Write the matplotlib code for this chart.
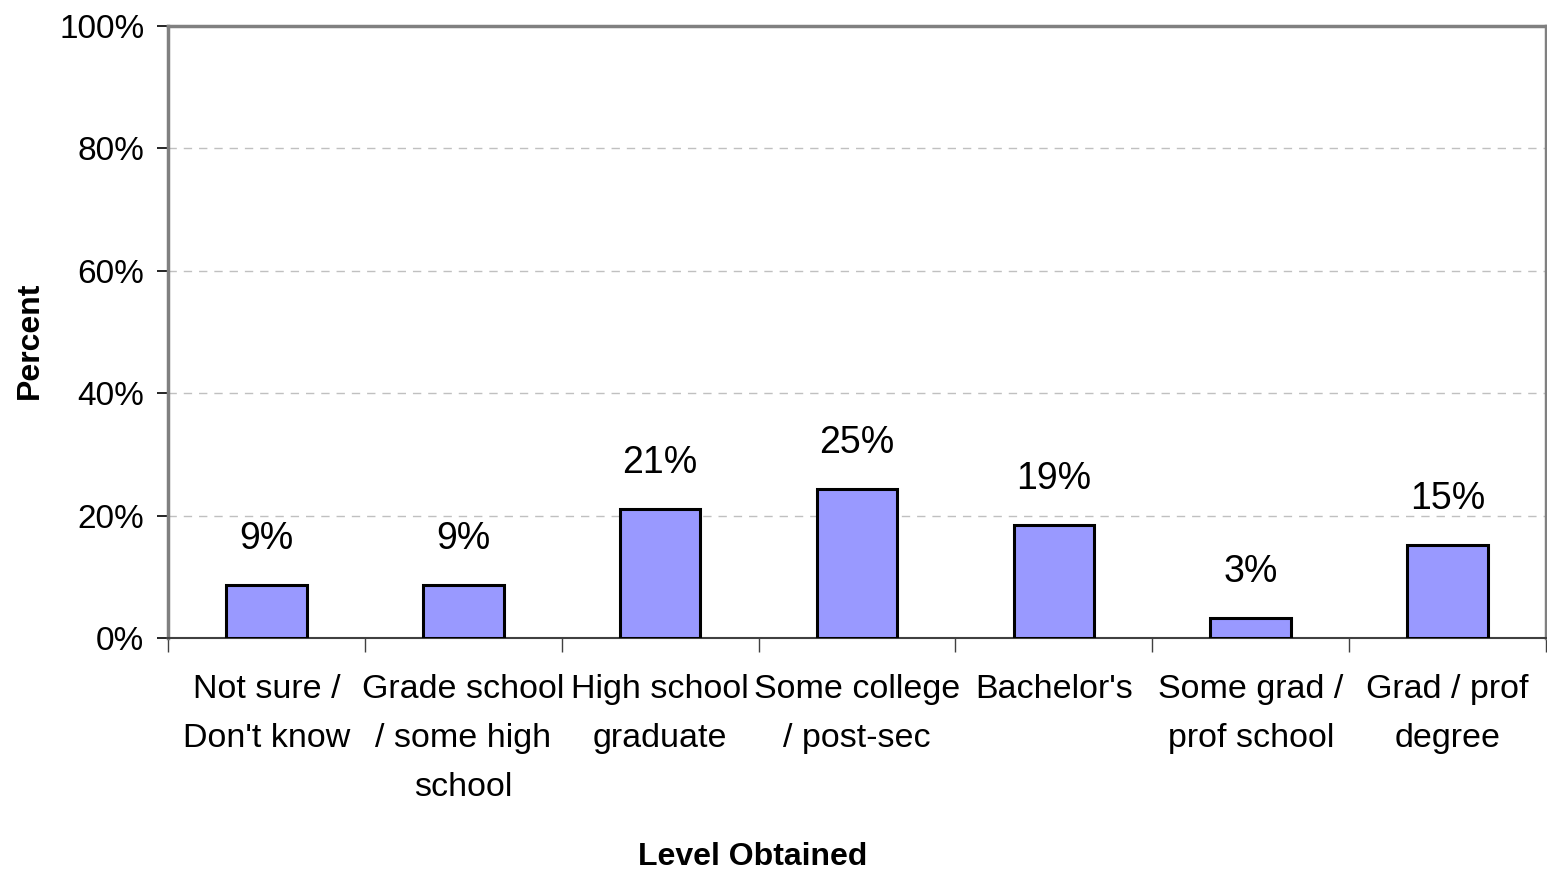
import matplotlib
matplotlib.use("Agg")
import matplotlib.pyplot as plt
import numpy as np

categories = ["Not sure /\nDon't know", "Grade school\n/ some high\nschool", "High school\ngraduate",
              "Some college\n/ post-sec", "Bachelor's", "Some grad /\nprof school", "Grad / prof\ndegree"]
values = [8.7, 8.7, 21.1, 24.4, 18.5, 3.3, 15.2]
labels = ["9%", "9%", "21%", "25%", "19%", "3%", "15%"]
yticks = [0, 20, 40, 60, 80, 100]

plt.rcParams['font.family'] = ["Liberation Sans", 'DejaVu Sans']

fig = plt.figure(figsize=(15.47, 8.72), dpi=100)
ax = fig.add_axes([168/1547, 1-638/872, (1546-168)/1547, (638-26)/872])

x = np.arange(len(categories))
ax.bar(x, values, width=0.41, color="#9999ff", edgecolor="black", linewidth=2.2, zorder=3)
for xi, v, l in zip(x, values, labels):
    ax.annotate(l, (xi, v), xytext=(0, 20), textcoords="offset points",
                ha="center", va="bottom", fontsize=27)

ax.set_xlim(-0.5, len(categories) - 0.5)
ax.set_ylim(0, 100)
ax.set_yticks(yticks)
ax.set_yticklabels([f"{t}%" for t in yticks], fontsize=24)
ax.set_xticks(x)
ax.set_xticklabels(categories, fontsize=24.5, linespacing=1.75)
ax.set_xticks(np.arange(-0.5, len(categories)), minor=True)
ax.tick_params(axis="x", which="major", length=0, pad=26)
ax.tick_params(axis="x", which="minor", length=10, width=1, color="#404040")
ax.tick_params(axis="y", length=8, width=1.2, pad=9, color="black")
ax.yaxis.grid(True, linestyle=(0, (6, 5)), color="#c0c0c0", linewidth=1)
ax.set_axisbelow(True)

for s in ["left", "top", "right"]:
    ax.spines[s].set_color("#808080")
    ax.spines[s].set_linewidth(2.5)
ax.spines["bottom"].set_color("#404040")
ax.spines["bottom"].set_linewidth(1.5)

fig.text(30/1547, 1-340/872, "Percent", rotation=90, ha="center", va="center",
         fontsize=23, fontweight="bold")
fig.text(753/1547, 1-857/872, "Level Obtained", ha="center", va="center",
         fontsize=23, fontweight="bold")

fig.savefig("out.png", dpi=100, facecolor="white")
